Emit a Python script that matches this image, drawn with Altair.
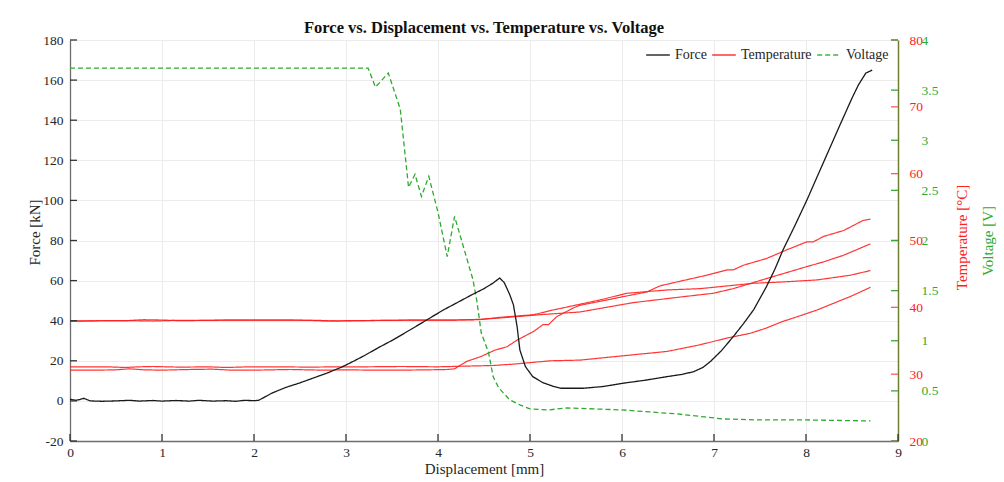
import altair as alt
import pandas as pd

# ---------------- data ----------------
force_disp = [0.00, 0.06, 0.10, 0.15, 0.22, 0.35, 0.50, 0.65, 0.75, 0.90, 1.00, 1.15, 1.30, 1.40,
              1.55, 1.70, 1.80, 1.90, 2.00, 2.05, 2.10, 2.20, 2.35, 2.50, 2.65, 2.79, 2.95, 3.04,
              3.20, 3.35, 3.51, 3.70, 3.90, 4.06, 4.20, 4.35, 4.50, 4.60, 4.67, 4.72, 4.78, 4.82,
              4.86, 4.89, 4.95, 5.03, 5.14, 5.25, 5.34, 5.58, 5.80, 6.01, 6.25, 6.49, 6.65, 6.78,
              6.88, 6.96, 7.08, 7.21, 7.32, 7.43, 7.57, 7.66, 7.75, 7.88, 8.01, 8.20, 8.37, 8.50,
              8.57, 8.65, 8.72]
force_kn = [0.8, 0.3, 0.6, 1.3, 0.0, -0.2, 0.0, 0.3, -0.1, 0.2, -0.1, 0.2, -0.1, 0.3,
            -0.1, 0.1, -0.2, 0.3, 0.1, 0.3, 1.5, 4.0, 6.8, 9.0, 11.5, 13.8, 16.8, 18.8,
            22.6, 26.5, 30.4, 35.5, 41.0, 45.4, 48.8, 52.5, 56.0, 58.8, 61.3, 59.0, 53.0, 47.9,
            37.0, 25.4, 17.1, 12.1, 9.1, 7.3, 6.3, 6.3, 7.2, 8.8, 10.3, 12.1, 13.2, 14.6,
            16.7, 19.6, 25.0, 32.1, 38.5, 45.4, 57.0, 65.5, 75.3, 87.5, 100.2, 120.0, 137.7, 151.0,
            157.6, 163.5, 165.0]

volt_disp = [0.00, 3.24, 3.32, 3.46, 3.59, 3.68, 3.75, 3.82, 3.90, 4.00, 4.10, 4.18, 4.38, 4.42,
             4.47, 4.55, 4.60, 4.66, 4.78, 4.89, 5.00, 5.20, 5.40, 5.70, 6.00, 6.30, 6.60, 6.90,
             7.10, 7.50, 8.00, 8.70]
volt_v = [3.72, 3.72, 3.53, 3.67, 3.31, 2.53, 2.66, 2.44, 2.64, 2.28, 1.84, 2.24, 1.61, 1.41,
          1.08, 0.88, 0.64, 0.53, 0.41, 0.36, 0.32, 0.31, 0.33, 0.32, 0.31, 0.29, 0.27, 0.24,
          0.22, 0.21, 0.21, 0.20]

tA_disp = [0.0, 0.3, 0.5, 0.65, 0.8, 1.0, 1.3, 1.55, 1.75, 2.0, 2.4, 2.75, 3.0, 3.3, 3.6, 3.9,
           4.1, 4.18, 4.31, 4.46, 4.62, 4.75, 4.86, 5.04, 5.14, 5.20, 5.29, 5.47, 5.54, 5.80,
           6.05, 6.27, 6.41, 6.63, 6.92, 7.14, 7.21, 7.32, 7.57, 7.79, 8.01, 8.08, 8.19, 8.41,
           8.62, 8.70]
tA_c = [30.6, 30.6, 30.65, 30.8, 30.65, 30.6, 30.7, 30.75, 30.6, 30.6, 30.7, 30.6, 30.65, 30.6,
        30.6, 30.65, 30.7, 30.8, 31.9, 32.6, 33.6, 34.1, 35.1, 36.4, 37.4, 37.4, 38.6, 39.9, 40.3,
        41.0, 41.7, 42.3, 43.2, 43.9, 44.8, 45.6, 45.6, 46.3, 47.3, 48.6, 49.8, 49.8, 50.6, 51.5,
        53.0, 53.2]

tB_disp = [0.0, 0.4, 0.6, 0.75, 0.9, 1.2, 1.5, 1.7, 1.95, 2.3, 2.6, 2.9, 3.2, 3.6, 4.0, 4.3,
           4.6, 4.82, 5.22, 5.54, 5.76, 6.12, 6.49, 6.85, 7.14, 7.39, 7.57, 7.75, 7.95, 8.12,
           8.30, 8.48, 8.70]
tB_c = [31.1, 31.1, 31.0, 31.1, 31.15, 31.05, 31.1, 31.0, 31.1, 31.1, 31.05, 31.1, 31.1, 31.15,
        31.1, 31.2, 31.3, 31.5, 32.0, 32.1, 32.4, 32.9, 33.4, 34.4, 35.4, 36.1, 36.9, 37.9, 38.8,
        39.6, 40.6, 41.6, 43.0]

tC_disp = [0.0, 0.3, 0.6, 0.8, 1.0, 1.2, 1.5, 1.9, 2.3, 2.7, 2.9, 3.1, 3.5, 3.9, 4.2, 4.45,
           4.67, 5.11, 5.54, 6.12, 6.67, 6.99, 7.21, 7.57, 7.79, 8.01, 8.19, 8.41, 8.70]
tC_c = [37.9, 38.0, 38.0, 38.15, 38.1, 38.0, 38.05, 38.1, 38.1, 38.05, 37.95, 38.0, 38.05, 38.1,
        38.1, 38.2, 38.4, 38.9, 39.3, 40.7, 41.6, 42.1, 42.8, 44.3, 45.2, 46.1, 46.8, 47.8, 49.5]

tD_disp = [0.0, 0.4, 0.7, 0.9, 1.15, 1.4, 1.8, 2.2, 2.6, 2.8, 3.0, 3.4, 3.8, 4.2, 4.45, 4.67,
           5.04, 5.25, 5.76, 6.05, 6.49, 6.85, 7.43, 7.75, 8.12, 8.48, 8.70]
tD_c = [37.95, 38.0, 38.0, 37.95, 38.05, 38.05, 38.1, 38.1, 38.05, 37.95, 38.0, 38.05, 38.1,
        38.1, 38.15, 38.5, 38.9, 39.6, 41.1, 42.1, 42.6, 42.8, 43.6, 43.8, 44.1, 44.8, 45.5]

series_names = ["Force", "Temperature", "Voltage"]
disp_ticks = [0, 1, 2, 3, 4, 5, 6, 7, 8, 9]
force_ticks = [-20, 0, 20, 40, 60, 80, 100, 120, 140, 160, 180]
temp_ticks = [20, 30, 40, 50, 60, 70, 80]
volt_ticks = [0, 0.5, 1, 1.5, 2, 2.5, 3, 3.5, 4]

# ---------------- styling ----------------
SERIF = "Liberation Serif"
C_FORCE = "#1a1a1a"
C_TEMP = "#ff2020"
C_VOLT = "#2eaa2e"
C_TEXT = "#262626"
LBL = 13.5
TTL = 15
W, H = 828, 401

force_df = pd.DataFrame({"disp": force_disp, "value": force_kn, "series": "Force", "sensor": "F"})
temp_df = pd.concat([
    pd.DataFrame({"disp": d, "value": v, "series": "Temperature", "sensor": s})
    for d, v, s in [(tA_disp, tA_c, "A"), (tB_disp, tB_c, "B"), (tC_disp, tC_c, "C"), (tD_disp, tD_c, "D")]
], ignore_index=True)
volt_df = pd.DataFrame({"disp": volt_disp, "value": volt_v, "series": "Voltage", "sensor": "V"})

legend = alt.Legend(orient="none", legendX=575, legendY=2, direction="horizontal", title=None,
                    labelFont=SERIF, labelFontSize=14, labelColor=C_TEXT, symbolType="stroke",
                    symbolSize=560, symbolStrokeWidth=1.5, columnPadding=2, labelOffset=4, padding=0)
color_enc = alt.Color("series:N", scale=alt.Scale(domain=series_names, range=[C_FORCE, C_TEMP, C_VOLT]),
                      legend=legend)
dash_enc = alt.StrokeDash("series:N", scale=alt.Scale(domain=series_names, range=[[1, 0], [1, 0], [5, 3]]),
                          legend=legend)

x_enc = alt.X("disp:Q", scale=alt.Scale(domain=[0, 9], nice=False, zero=False),
              axis=alt.Axis(values=disp_ticks, labelExpr="toString(datum.value)", labelFlush=False,
                            labelOverlap=False, ticks=False, tickSize=0, labelPadding=4,
                            labelFont=SERIF, labelFontSize=LBL, labelColor=C_TEXT,
                            domainColor="#6e6e6e", domainWidth=1.3, grid=True, gridColor="#ececec",
                            title="Displacement [mm]", titleFont=SERIF, titleFontSize=TTL,
                            titleFontWeight="normal", titleColor=C_TEXT, titlePadding=3))

force_scale = alt.Scale(domain=[-20, 180], nice=False, zero=False)
temp_scale = alt.Scale(domain=[20, 80], nice=False, zero=False)
volt_scale = alt.Scale(domain=[0, 4], nice=False, zero=False)

force_line = alt.Chart(force_df).mark_line(strokeWidth=1.3).encode(
    x=x_enc,
    y=alt.Y("value:Q", scale=force_scale,
            axis=alt.Axis(orient="left", values=force_ticks, labelExpr="toString(datum.value)",
                          labelOverlap=False, ticks=False, tickSize=0, labelPadding=7,
                          labelFont=SERIF, labelFontSize=LBL, labelColor=C_TEXT,
                          domainColor="#6e6e6e", domainWidth=1.3, grid=True, gridColor="#ececec",
                          title="Force [kN]", titleFont=SERIF, titleFontSize=TTL,
                          titleFontWeight="normal", titleColor=C_TEXT, titleAngle=270,
                          titleX=-36, titleY=192, titleBaseline="middle", titleAlign="center")),
    color=color_enc, strokeDash=dash_enc, detail="sensor:N")

temp_lines = alt.Chart(temp_df).mark_line(strokeWidth=1.2, opacity=0.9).encode(
    x=x_enc,
    y=alt.Y("value:Q", scale=temp_scale,
            axis=alt.Axis(orient="right", values=temp_ticks, labelExpr="toString(datum.value)",
                          labelOverlap=False, ticks=False, tickSize=0, labelPadding=11,
                          labelFont=SERIF, labelFontSize=LBL, labelColor=C_TEMP,
                          domain=False, grid=False,
                          title="Temperature [°C]", titleFont=SERIF, titleFontSize=TTL,
                          titleFontWeight="normal", titleColor=C_TEMP, titleAngle=270,
                          titleX=63, titleY=197, titleBaseline="middle", titleAlign="center")),
    color=color_enc, strokeDash=dash_enc, detail="sensor:N")

volt_line = alt.Chart(volt_df).mark_line(strokeWidth=1.3).encode(
    x=x_enc,
    y=alt.Y("value:Q", scale=volt_scale,
            axis=alt.Axis(orient="right", values=volt_ticks, labelExpr="toString(datum.value)",
                          labelOverlap=False, ticks=False, tickSize=0, labelPadding=23,
                          labelFont=SERIF, labelFontSize=LBL, labelColor=C_VOLT,
                          domainColor="#6e7f30", domainWidth=1.5, grid=False,
                          title="Voltage [V]", titleFont=SERIF, titleFontSize=TTL,
                          titleFontWeight="normal", titleColor=C_VOLT, titleAngle=270,
                          titleX=89, titleY=H / 2, titleBaseline="middle", titleAlign="center")),
    color=color_enc, strokeDash=dash_enc, detail="sensor:N")

# inward-pointing tick marks
force_tick_df = pd.DataFrame({"value": force_ticks})
temp_tick_df = pd.DataFrame({"value": temp_ticks})
volt_tick_df = pd.DataFrame({"value": volt_ticks})
disp_tick_df = pd.DataFrame({"disp": disp_ticks})

left_ticks = alt.Chart(force_tick_df).mark_rule(color="#333333", strokeWidth=1.3).encode(
    y=alt.Y("value:Q", scale=force_scale, axis=None), x=alt.value(0), x2=alt.value(7))
temp_tick_marks = alt.Chart(temp_tick_df).mark_rule(color="#ff5a5a", strokeWidth=1.3).encode(
    y=alt.Y("value:Q", scale=temp_scale, axis=None), x=alt.value(W - 7), x2=alt.value(W))
volt_tick_marks = alt.Chart(volt_tick_df).mark_rule(color="#3aa53a", strokeWidth=1.3).encode(
    y=alt.Y("value:Q", scale=volt_scale, axis=None), x=alt.value(W - 7), x2=alt.value(W))
bottom_ticks = alt.Chart(disp_tick_df).mark_rule(color="#333333", strokeWidth=1.3).encode(
    x=x_enc, y=alt.value(H - 7), y2=alt.value(H))

chart = alt.layer(
    temp_lines, volt_line, force_line,
    left_ticks, temp_tick_marks, volt_tick_marks, bottom_ticks
).resolve_scale(y="independent").properties(
    width=W, height=H,
    title=alt.TitleParams(text="Force vs. Displacement vs. Temperature vs. Voltage", font=SERIF,
                          fontSize=16.5, fontWeight="bold", color="#111111", anchor="middle", offset=-3),
    autosize=alt.AutoSizeParams(type="none"),
    padding={"left": 70, "top": 40, "right": 106, "bottom": 41},
    background="white",
).configure_view(stroke=None)

chart.save("out.html", embed_options={"renderer": "svg", "actions": False})
